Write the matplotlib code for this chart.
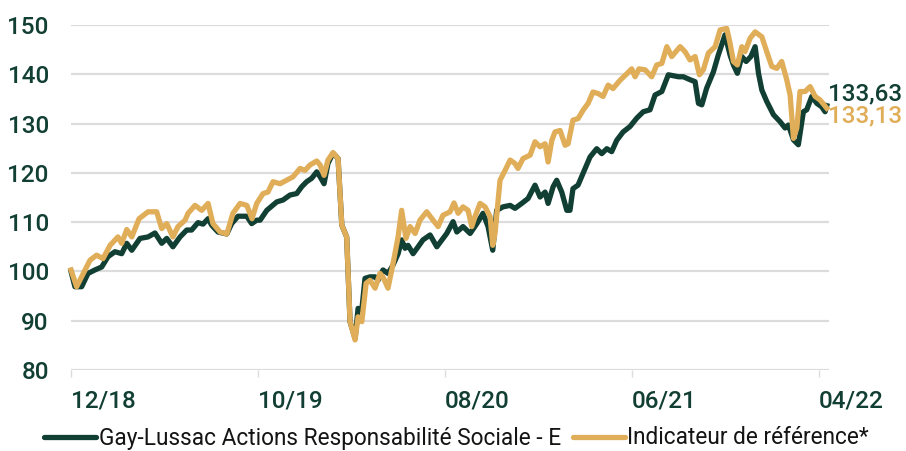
import numpy as np
import matplotlib.pyplot as plt

# months since 12/18
fund_m = [0, 0.21, 0.57, 0.91, 1.28, 1.64, 1.98, 2.35, 2.71, 2.98, 3.25, 3.69, 4.12, 4.49, 4.85,
          5.12, 5.45, 5.83, 6.19, 6.45, 6.79, 7.06, 7.33, 7.52, 7.86, 8.33, 8.59, 8.93, 9.40,
          9.66, 9.93, 10.11, 10.47, 11.00, 11.34, 11.71, 12.07, 12.34, 12.60, 12.87, 13.14,
          13.32, 13.53, 13.74, 14.01, 14.28, 14.48, 14.74, 14.92, 15.19, 15.35, 15.55, 15.72,
          15.99, 16.26, 16.42, 16.68, 16.95, 17.22, 17.49, 17.68, 17.86, 18.02, 18.29, 18.56,
          18.82, 19.20, 19.56, 19.89, 20.09, 20.43, 20.63, 20.96, 21.34, 21.70, 22.03, 22.30,
          22.55, 22.76, 23.10, 23.48, 23.74, 24.10, 24.44, 24.81, 25.08, 25.35, 25.51, 25.78,
          25.97, 26.24, 26.51, 26.68, 26.84, 27.11, 27.38, 27.75, 28.11, 28.38, 28.65, 28.91,
          29.18, 29.52, 29.89, 30.25, 30.60, 30.96, 31.23, 31.59, 31.94, 32.48, 32.74, 33.10,
          33.37, 33.55, 33.73, 33.99, 34.35, 34.61, 34.97, 35.24, 35.42, 35.63, 35.87, 36.10,
          36.35, 36.58, 36.76, 36.94, 37.20, 37.56, 37.91, 38.18, 38.36, 38.63, 38.89, 39.16,
          39.34, 39.61, 39.88, 40.14, 40.32, 40.41]
fund_v = [100, 96.9, 96.9, 99.6, 100.3, 100.9, 103, 104, 103.6, 105.7, 104.3, 106.7, 107, 107.8,
          105.7, 106.7, 105, 107, 108.4, 108.4, 109.9, 109.6, 110.7, 109.4, 108, 107.6, 109.7,
          111.2, 111.2, 109.7, 110.4, 110.4, 112.4, 114.1, 114.5, 115.5, 115.8, 117.2, 118.2,
          118.9, 120.2, 119.2, 117.8, 121.9, 124, 122.9, 109.4, 107, 89.8, 86.4, 92.5, 92.2,
          98.6, 98.9, 98.9, 98.2, 100.3, 99.6, 101.3, 103.6, 106.4, 104.7, 105.3, 103.6, 105,
          106.4, 107.4, 105, 106.7, 107.7, 110.1, 108, 109.1, 107.7, 109.7, 111.8, 109.1, 104.3,
          112.4, 113.1, 113.4, 112.8, 113.8, 114.8, 117.5, 115.1, 116.1, 113.8, 117.2, 118.5,
          116.1, 112.4, 112.4, 116.8, 117.5, 119.9, 123.2, 124.9, 123.9, 124.9, 124.3, 126.6,
          128.3, 129.4, 131.1, 132.4, 132.8, 135.8, 136.5, 139.9, 139.5, 139.5, 138.9, 138.5,
          134.1, 133.8, 137.2, 140.5, 143.9, 148, 143.9, 141.9, 140.2, 143.6, 142.6, 143.6,
          145.6, 140.2, 136.8, 134.5, 131.8, 130.4, 129.1, 129.7, 126.7, 125.7, 132.4, 132.8,
          135.5, 134.1, 133.4, 132.4, 133.63]

bench_m = [0, 0.30, 1.02, 1.37, 1.71, 2.09, 2.51, 2.71, 2.98, 3.25, 3.64, 4.12, 4.58, 4.85, 5.12,
           5.45, 5.72, 6.10, 6.26, 6.63, 6.99, 7.33, 7.59, 7.97, 8.33, 8.66, 9.04, 9.40, 9.68,
           9.93, 10.27, 10.53, 10.80, 11.18, 11.53, 11.87, 12.25, 12.51, 12.78, 13.14, 13.32,
           13.53, 13.74, 14.01, 14.28, 14.48, 14.74, 14.92, 15.19, 15.35, 15.55, 15.78, 15.99,
           16.26, 16.52, 16.68, 16.95, 17.22, 17.49, 17.68, 17.91, 18.13, 18.40, 18.66, 19.02,
           19.36, 19.63, 19.89, 20.27, 20.48, 20.70, 20.96, 21.23, 21.43, 21.60, 21.87, 22.14,
           22.41, 22.55, 22.67, 22.94, 23.21, 23.48, 23.74, 23.90, 24.17, 24.55, 24.81, 25.08,
           25.35, 25.51, 25.71, 25.88, 26.15, 26.42, 26.58, 26.84, 27.11, 27.38, 27.65, 27.91,
           28.18, 28.45, 28.72, 28.98, 29.36, 29.72, 29.98, 30.16, 30.37, 30.70, 31.05, 31.32,
           31.59, 31.86, 32.12, 32.57, 32.83, 33.10, 33.37, 33.60, 33.81, 34.08, 34.44, 34.71,
           35.06, 35.24, 35.42, 35.63, 35.87, 36.04, 36.31, 36.58, 36.94, 37.20, 37.47, 37.74,
           38.00, 38.27, 38.45, 38.63, 38.81, 38.98, 39.25, 39.52, 39.79, 40.05, 40.41]
bench_v = [100.3, 96.9, 102.3, 103.3, 102.6, 105.3, 107, 105.7, 108.5, 107, 110.7, 112.1, 112.1,
           108.7, 109.7, 107, 109.1, 110.4, 111.8, 113.4, 112.4, 113.8, 109.7, 108, 107.6, 111.8,
           113.8, 113.4, 110.7, 113.8, 115.8, 116.1, 118.2, 117.8, 118.5, 119.2, 120.9, 120.5,
           121.6, 122.4, 121.6, 119.5, 122.6, 124.1, 122.9, 109.4, 107, 89.8, 86.1, 90.8, 89.8,
           97.6, 98.2, 96.6, 99.6, 98.9, 96.6, 101.6, 107, 112.4, 106.7, 109.1, 107.7, 110.4,
           112.1, 110.4, 109.1, 111.4, 112.1, 113.9, 111.8, 113.1, 112.4, 109.1, 111.1, 113.8,
           113.1, 111.1, 105.3, 107.7, 118.5, 120.5, 122.6, 121.9, 120.9, 122.9, 123.6, 126.3,
           125.3, 125.9, 122.2, 126.6, 128.3, 128.6, 125.6, 125.9, 130.7, 131, 132.7, 134.1,
           136.4, 136.1, 135.5, 137.8, 137.1, 138.8, 140.1, 141.1, 139.5, 141.1, 140.9, 139.5,
           141.9, 142.2, 145.6, 143.6, 145.6, 144.6, 142.9, 143.6, 139.9, 140.9, 144.3, 145.6,
           149, 149.3, 146.3, 142.6, 141.9, 145.6, 144.6, 147.3, 148.6, 147.6, 144.6, 141.6,
           141.2, 142.6, 138.9, 135.8, 127, 129.1, 136.5, 136.5, 137.5, 135.5, 134.8, 133.13]

tick_m = [0, 10, 20, 30, 40]
tick_labels = ['12/18', '10/19', '08/20', '06/21', '04/22']
yticks = [80, 90, 100, 110, 120, 130, 140, 150]
fund_name = 'Gay-Lussac Actions Responsabilité Sociale - E'
bench_name = 'Indicateur de référence*'

green = '#123f33'
gold = '#e0ad58'
grid_c = '#dcdcdc'

plt.rcParams['font.family'] = ['Roboto', 'DejaVu Sans']

fig = plt.figure(figsize=(9.06, 4.51), dpi=100)
ax = fig.add_axes([71/906, 81/451, 758/906, 345/451])

ax.plot(fund_m, fund_v, color=green, lw=3.8, label=fund_name, clip_on=False,
        solid_joinstyle='round', zorder=3)
ax.plot(bench_m, bench_v, color=gold, lw=3.8, label=bench_name, clip_on=False,
        solid_joinstyle='round', zorder=4)

ax.set_xlim(0, 40.53)
ax.set_ylim(80, 150)
ax.set_yticks(yticks)
ax.set_xticks(tick_m)
ax.set_xticklabels(tick_labels, ha='left')
ax.grid(axis='y', color=grid_c, lw=1.6)
ax.set_axisbelow(True)
for s in ax.spines.values():
    s.set_visible(False)
ax.tick_params(axis='y', length=0, pad=16, labelsize=17.5, labelcolor=green)
ax.tick_params(axis='x', length=5, width=1, color=grid_c, pad=9, labelsize=17.5,
               labelcolor=green)
for lab in ax.get_xticklabels() + ax.get_yticklabels():
    lab.set_fontweight('medium')

ax.text(40.5, fund_v[-1] + 2.3, '133,63', color=green, fontsize=17.5, fontweight='medium',
        va='center', ha='left', clip_on=False)
ax.text(40.5, bench_v[-1] - 1.5, '133,13', color=gold, fontsize=17.5, fontweight='medium',
        va='center', ha='left', clip_on=False)

leg = fig.legend(loc='center', ncol=2, frameon=False, fontsize=16.3, handlelength=2.3,
                 handletextpad=0.1, columnspacing=0.55, borderpad=0.1,
                 bbox_to_anchor=(0.504, 1 - 438/451), bbox_transform=fig.transFigure)
for t in leg.get_texts():
    t.set_color('#141414')
for h in leg.legend_handles:
    h.set_linewidth(3.8)
    h.set_solid_capstyle('round')

fig.savefig('out.png', dpi=100)
